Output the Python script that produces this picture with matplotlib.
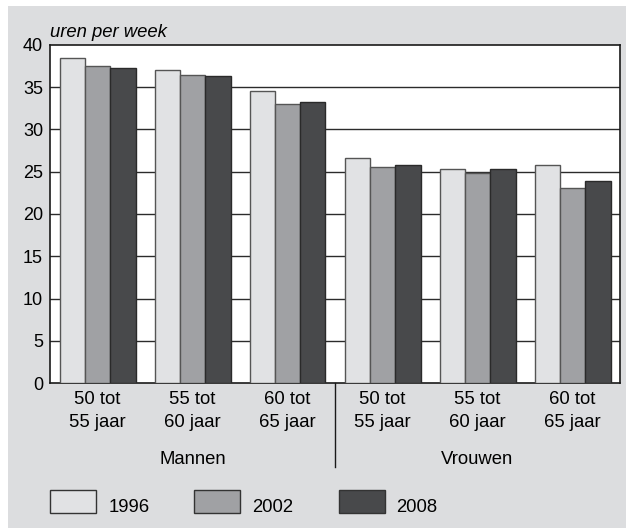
import matplotlib
matplotlib.use("Agg")
import matplotlib.pyplot as plt
import numpy as np
from matplotlib.patches import Rectangle

plt.rcParams['font.family'] = ['Liberation Sans', 'DejaVu Sans']

categories = ["50 tot\n55 jaar", "55 tot\n60 jaar", "60 tot\n65 jaar",
              "50 tot\n55 jaar", "55 tot\n60 jaar", "60 tot\n65 jaar"]
groups = ["Mannen", "Vrouwen"]
years = ["1996", "2002", "2008"]
v1996 = [38.5, 37.0, 34.6, 26.6, 25.3, 25.8]
v2002 = [37.5, 36.5, 33.0, 25.6, 24.8, 23.1]
v2008 = [37.3, 36.3, 33.3, 25.8, 25.3, 23.9]
yticks = [0, 5, 10, 15, 20, 25, 30, 35, 40]

colors = ["#e1e2e4", "#a0a1a4", "#48494b"]
edges = ["#555555", "#555555", "#2a2a2a"]
bg = "#dcdddf"
FS = 13.3

W, H = 626, 528
fig = plt.figure(figsize=(W/100, H/100), dpi=100)
fig.patch.set_facecolor("white")
fig.patches.append(Rectangle((8/W, 0), 1 - 8/W, 1 - 6/H, transform=fig.transFigure,
                             facecolor=bg, edgecolor="none", zorder=-10))

left, right, top, bottom = 50, 620, 45, 383
ax = fig.add_axes([left/W, 1 - bottom/H, (right-left)/W, (bottom-top)/H])
ax.set_facecolor("white")

x = np.arange(len(categories))
bw = 0.8 / 3
for i, vals in enumerate([v1996, v2002, v2008]):
    ax.bar(x + (i - 1) * bw, vals, width=bw, color=colors[i], edgecolor=edges[i],
           linewidth=1.0, zorder=3, label=years[i])

ax.set_xlim(-0.5, len(categories) - 0.5)
ax.set_ylim(0, 40)
ax.set_yticks(yticks)
ax.set_yticklabels([str(t) for t in yticks], fontsize=13)
for t in yticks[1:-1]:
    ax.axhline(t, color="#2b2b2b", linewidth=1.0, zorder=1)
ax.tick_params(axis="y", length=0, pad=5)
ax.tick_params(axis="x", length=0, pad=6)
ax.set_xticks(x)
ax.set_xticklabels(categories, fontsize=FS, linespacing=1.45)
for s in ax.spines.values():
    s.set_color("#1a1a1a")
    s.set_linewidth(1.2)

# group labels and separator
trans = ax.get_xaxis_transform()
ax.text(1, -76/338, groups[0], transform=trans, ha="center", va="center", fontsize=FS)
ax.text(4, -76/338, groups[1], transform=trans, ha="center", va="center", fontsize=FS)
ax.plot([2.5, 2.5], [0, -84/338], transform=trans, color="#1a1a1a", linewidth=1.0,
        clip_on=False)

ax.text(0, 1.012, "uren per week", transform=ax.transAxes, ha="left", va="bottom",
        fontsize=FS, style="italic")

# legend
box_x = [50, 194, 339]
txt_x = [109, 252, 396]
for i in range(3):
    fig.patches.append(Rectangle((box_x[i]/W, 1 - 513/H), 46/W, 23/H,
                                 transform=fig.transFigure, facecolor=colors[i],
                                 edgecolor="#333333", linewidth=1.0))
    fig.text(txt_x[i]/W, 1 - 508/H, years[i], ha="left", va="center", fontsize=FS)

fig.savefig("out.png", dpi=100, facecolor=fig.get_facecolor())
